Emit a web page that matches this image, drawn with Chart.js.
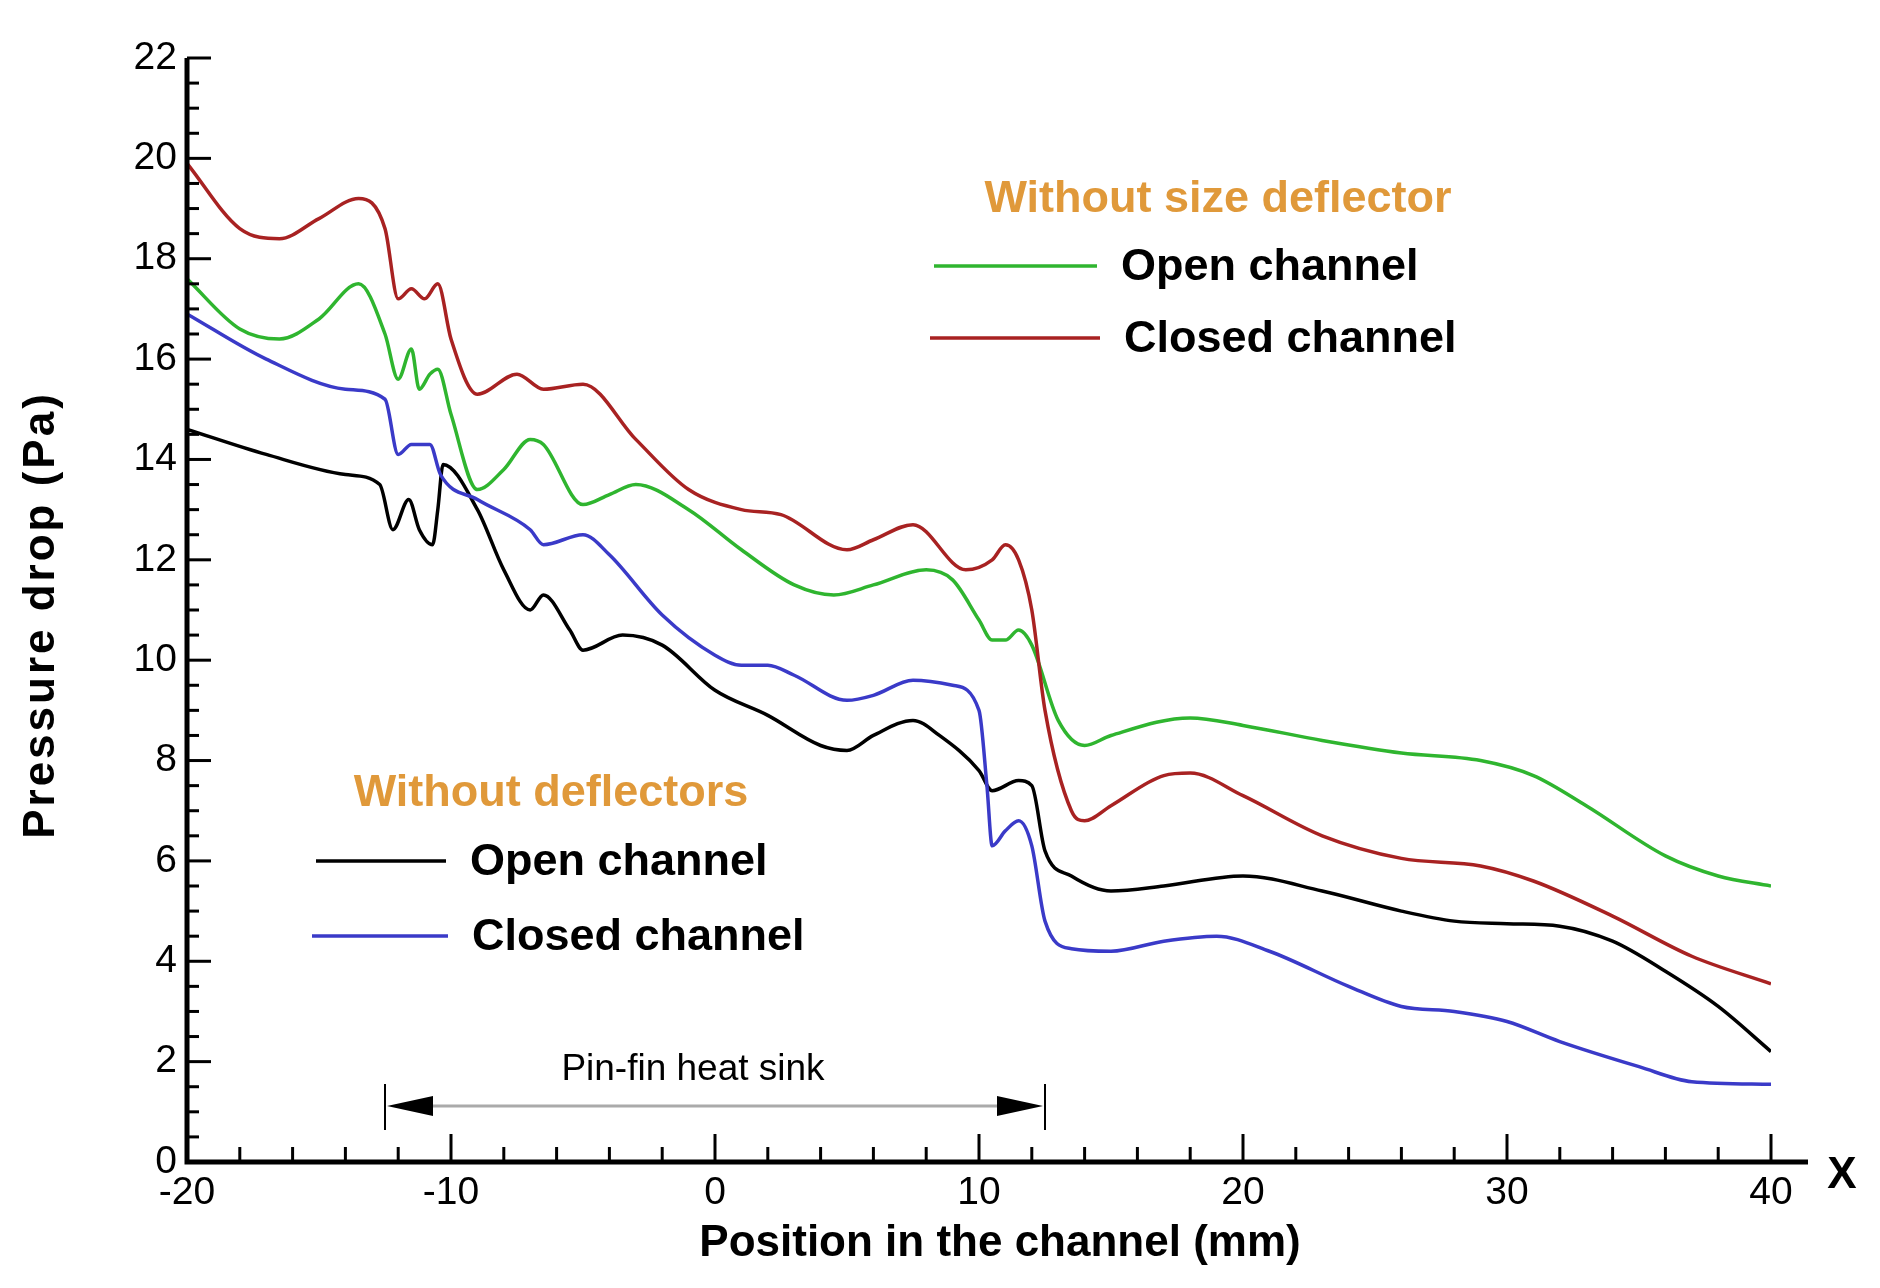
<!DOCTYPE html>
<html><head><meta charset="utf-8">
<script src="https://cdn.jsdelivr.net/npm/chart.js@4"></script>
<style>html,body{margin:0;padding:0;background:#fff}#wrap{width:1880px;height:1288px}</style>
</head><body><div id="wrap"><canvas id="c" width="1880" height="1288"></canvas></div>
<script>
const xTicks = [-20,-10,0,10,20,30,40];
const yTicks = [0,2,4,6,8,10,12,14,16,18,20,22];
const openNoDefl = [[-20,14.6],[-17,14.1],[-14,13.7],[-12.7,13.5],[-12.2,12.6],[-11.6,13.2],[-11.2,12.6],[-10.7,12.3],[-10.5,13.0],[-10.3,13.9],[-9,13.0],[-8,11.8],[-7,11.0],[-6.5,11.3],[-5.5,10.6],[-5,10.2],[-3.5,10.5],[-2,10.3],[0,9.4],[2,8.9],[4,8.3],[5,8.2],[6,8.5],[7.5,8.8],[8.5,8.5],[10,7.8],[10.5,7.4],[11.5,7.6],[12,7.5],[12.5,6.2],[13.5,5.7],[15,5.4],[17,5.5],[20,5.7],[23,5.4],[26,5.0],[28,4.8],[30,4.75],[32,4.7],[34,4.4],[36,3.8],[38,3.1],[40,2.2]];
const closedNoDefl = [[-20,16.9],[-17,16.0],[-14,15.4],[-12.5,15.2],[-12,14.1],[-11.5,14.3],[-10.8,14.3],[-10.4,13.7],[-9,13.2],[-7,12.6],[-6.5,12.3],[-5,12.5],[-4,12.1],[-2,10.9],[0,10.1],[1,9.9],[2,9.9],[3,9.7],[5,9.2],[6,9.3],[7.5,9.6],[9,9.5],[10,9.0],[10.3,7.5],[10.5,6.3],[11,6.6],[11.5,6.8],[12,6.3],[12.5,4.8],[13.5,4.25],[15,4.2],[17,4.4],[19,4.5],[21,4.2],[24,3.5],[26,3.1],[28,3.0],[30,2.8],[32,2.4],[35,1.9],[37,1.6],[40,1.55]];
const openSize = [[-20,17.6],[-18,16.6],[-16.5,16.4],[-15,16.8],[-13.5,17.5],[-12.5,16.5],[-12,15.6],[-11.5,16.2],[-11.2,15.4],[-10.8,15.7],[-10.5,15.8],[-10,14.9],[-9,13.4],[-8,13.8],[-7,14.4],[-6.5,14.3],[-5,13.1],[-4,13.3],[-3,13.5],[-1,13.0],[1,12.2],[3,11.5],[4.5,11.3],[6,11.5],[8,11.8],[9,11.6],[10,10.8],[10.5,10.4],[11,10.4],[11.5,10.6],[12,10.3],[13,8.8],[14,8.3],[15,8.5],[18,8.85],[20,8.7],[23,8.4],[26,8.15],[29,8.0],[31,7.7],[33,7.1],[36,6.1],[38,5.7],[40,5.5]];
const closedSize = [[-20,19.9],[-18,18.6],[-16.5,18.4],[-15,18.8],[-13.5,19.2],[-12.5,18.6],[-12,17.2],[-11.5,17.4],[-11,17.2],[-10.5,17.5],[-10,16.4],[-9,15.3],[-7.5,15.7],[-6.5,15.4],[-5,15.5],[-3,14.4],[-1,13.4],[1,13.0],[2.5,12.9],[5,12.2],[6,12.4],[7.5,12.7],[9.5,11.8],[10.5,12.0],[11,12.3],[11.5,12.0],[12,11.0],[12.5,9.0],[13.5,7.0],[14,6.8],[15,7.1],[17,7.7],[18,7.75],[20,7.3],[23,6.5],[26,6.05],[29,5.9],[31,5.6],[34,4.9],[37,4.1],[40,3.55]];
const heatSink = [-12.5, 12.5];

const toPts = a => a.map(p => ({x:p[0], y:p[1]}));
const FONT = '"Liberation Sans", Arial, sans-serif';

const deco = {
  id:'deco',
  afterDraw(chart){
    const c = chart.ctx, xs = chart.scales.x, ys = chart.scales.y;
    const X = v => xs.getPixelForValue(v), Y = v => ys.getPixelForValue(v);
    c.save();
    c.strokeStyle='#000'; c.fillStyle='#000';
    c.lineWidth=5;
    c.beginPath(); c.moveTo(X(-20),Y(22)); c.lineTo(X(-20),Y(0)); c.lineTo(1808,Y(0)); c.stroke();
    c.lineWidth=3;
    for(let v=-20; v<=40; v+=2){ const len = v%10===0?28:15; c.beginPath(); c.moveTo(X(v),Y(0)); c.lineTo(X(v),Y(0)-len); c.stroke(); }
    for(let v=0; v<=22; v+=0.5){ const len = v%2===0?24:12; c.beginPath(); c.moveTo(X(-20),Y(v)); c.lineTo(X(-20)+len,Y(v)); c.stroke(); }
    c.font = '39px '+FONT; c.textAlign='center'; c.textBaseline='top';
    xTicks.forEach(v=>c.fillText(String(v), X(v), Y(0)+12));
    c.textAlign='right'; c.textBaseline='middle';
    yTicks.forEach(v=>c.fillText(String(v), X(-20)-10, Y(v)));
    c.font='bold 44px '+FONT; c.textAlign='center';
    c.fillText('Position in the channel (mm)', 1000, 1244);
    c.fillText('X', 1842, 1176);
    c.save(); c.translate(42,615); c.rotate(-Math.PI/2); c.letterSpacing='3px'; c.fillText('Pressure drop (Pa)',0,0); c.restore();
    c.font='bold 45px '+FONT; c.fillStyle='#e0993a'; c.textAlign='center';
    c.fillText('Without size deflector', 1218, 200);
    c.fillText('Without deflectors', 551, 794);
    c.textAlign='left'; c.fillStyle='#000';
    const leg=(col,x1,x2,y,t)=>{c.strokeStyle=col;c.lineWidth=3.5;c.beginPath();c.moveTo(x1,y);c.lineTo(x2,y);c.stroke();c.fillText(t,x2+24,y+2);};
    leg('#2fb52f',934,1097,266,'Open channel');
    leg('#a82222',930,1100,338,'Closed channel');
    leg('#000',316,446,861,'Open channel');
    leg('#3a3ac8',312,448,936,'Closed channel');
    const a=X(heatSink[0]), b=X(heatSink[1]), ya=1106;
    c.strokeStyle='#000'; c.lineWidth=2;
    [a,b].forEach(x=>{c.beginPath();c.moveTo(x,ya-22);c.lineTo(x,ya+24);c.stroke();});
    c.strokeStyle='#aaa'; c.lineWidth=3; c.beginPath(); c.moveTo(a+45,ya); c.lineTo(b-45,ya); c.stroke();
    c.fillStyle='#000';
    c.beginPath(); c.moveTo(a+2,ya); c.lineTo(a+48,ya-10); c.lineTo(a+48,ya+10); c.closePath(); c.fill();
    c.beginPath(); c.moveTo(b-2,ya); c.lineTo(b-48,ya-10); c.lineTo(b-48,ya+10); c.closePath(); c.fill();
    c.font='37px '+FONT; c.textAlign='center'; c.fillText('Pin-fin heat sink', 693, 1070);
    c.restore();
  }
};

const ds = (d,col)=>({data:toPts(d), borderColor:col, borderWidth:3.5, pointRadius:0, tension:0.4, cubicInterpolationMode:'monotone', fill:false});
new Chart(document.getElementById('c'), {
  type:'line',
  data:{datasets:[ds(closedSize,'#a82222'), ds(openSize,'#2fb52f'), ds(closedNoDefl,'#3a3ac8'), ds(openNoDefl,'#000')]},
  options:{
    responsive:false, animation:false,
    layout:{padding:{left:187,right:109,top:58,bottom:126}},
    plugins:{legend:{display:false}, tooltip:{enabled:false}},
    scales:{
      x:{type:'linear', min:-20, max:40, display:false},
      y:{min:0, max:22, display:false}
    }
  },
  plugins:[deco]
});
</script></body></html>
